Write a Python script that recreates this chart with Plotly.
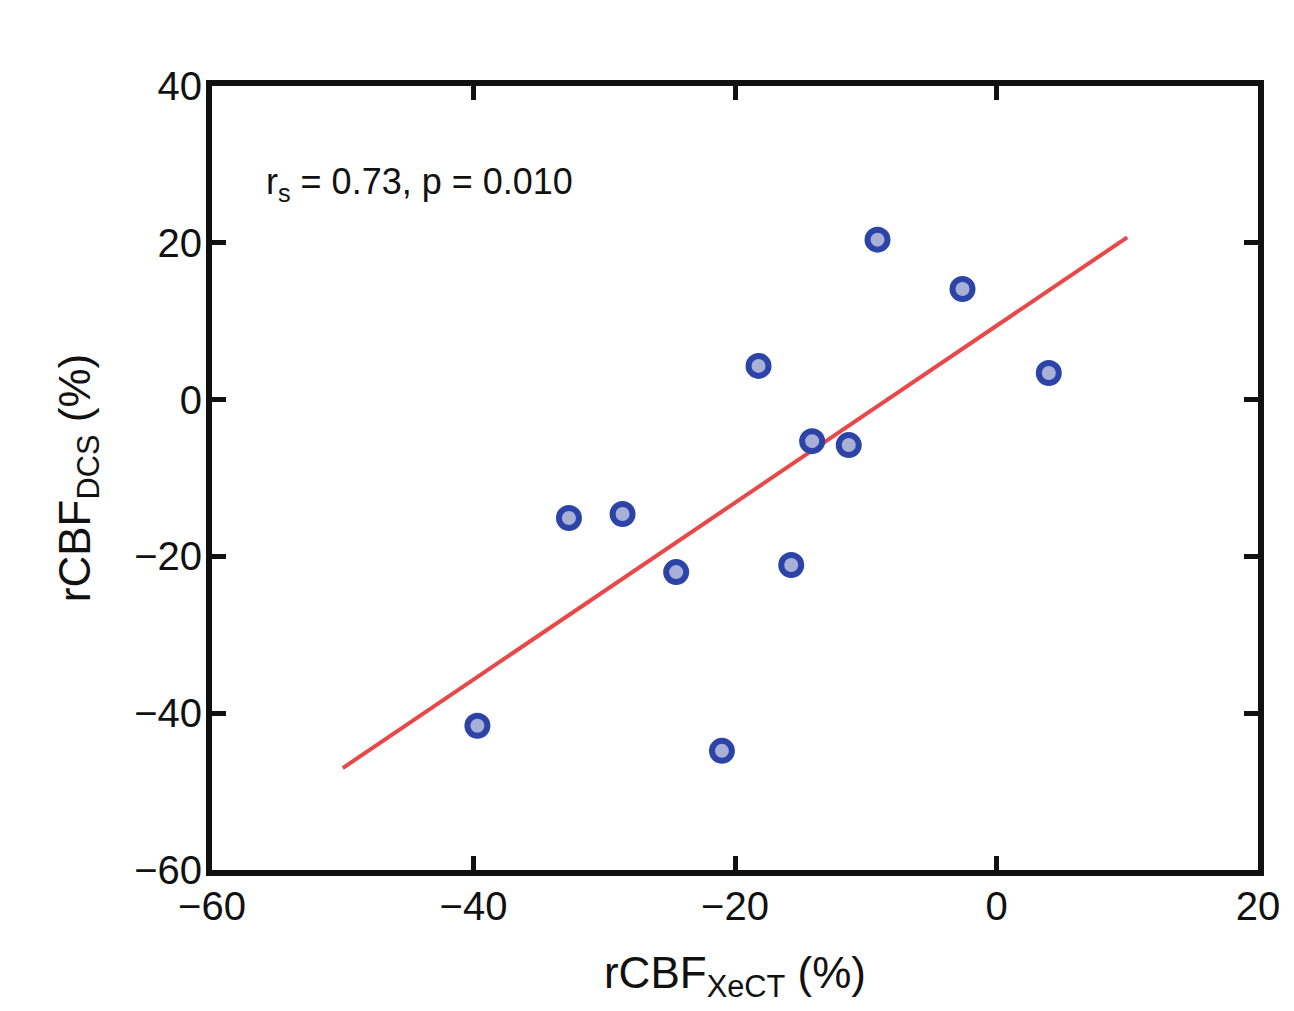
import plotly.graph_objects as go

# Data
x_xect = [-9.1, -2.6, 4.0, -18.2, -14.1, -11.3, -32.7, -28.6, -24.5, -15.7, -39.7, -21.0]
y_dcs = [20.4, 14.1, 3.4, 4.3, -5.3, -5.8, -15.1, -14.6, -22.0, -21.1, -41.6, -44.8]
fit_x = [-50, 10]
fit_y = [-47.0, 20.7]
x_ticks = [-60, -40, -20, 0, 20]
y_ticks = [-60, -40, -20, 0, 20, 40]

FONT = "Liberation Sans, Arial, sans-serif"

fig = go.Figure()
fig.add_trace(go.Scatter(
    x=fit_x, y=fit_y, mode="lines",
    line=dict(color="#e84848", width=4), showlegend=False))
fig.add_trace(go.Scatter(
    x=x_xect, y=y_dcs, mode="markers",
    marker=dict(size=20, color="#a9b0d8", line=dict(color="#2c44a8", width=6)),
    showlegend=False))

axis_common = dict(
    showgrid=False, zeroline=False, showline=True, linecolor="#111111", linewidth=6,
    mirror="allticks", ticks="inside", ticklen=14, tickwidth=5, tickcolor="#111111",
    tickfont=dict(family=FONT, size=40, color="#111111"),
)

fig.update_layout(
    width=1294, height=1011,
    margin=dict(l=212, r=36, t=86, b=141),
    paper_bgcolor="white", plot_bgcolor="white",
    font=dict(family=FONT, color="#111111"),
    xaxis=dict(range=[-60, 20], tickvals=x_ticks, ticklabelstandoff=-4,
               title=dict(text="rCBF<sub>XeCT</sub> (%)", font=dict(size=44, family=FONT), standoff=32),
               **axis_common),
    yaxis=dict(range=[-60, 40], tickvals=y_ticks, ticklabelstandoff=-4,
               title=dict(text="rCBF<sub>DCS</sub> (%)", font=dict(size=44, family=FONT), standoff=32),
               **axis_common),
    annotations=[dict(
        x=-56, y=27.5, xref="x", yref="y", xanchor="left", yanchor="middle",
        text="r<sub>s</sub> = 0.73, p = 0.010", showarrow=False,
        font=dict(family=FONT, size=36, color="#111111"))],
)

fig.write_html("out.html")
